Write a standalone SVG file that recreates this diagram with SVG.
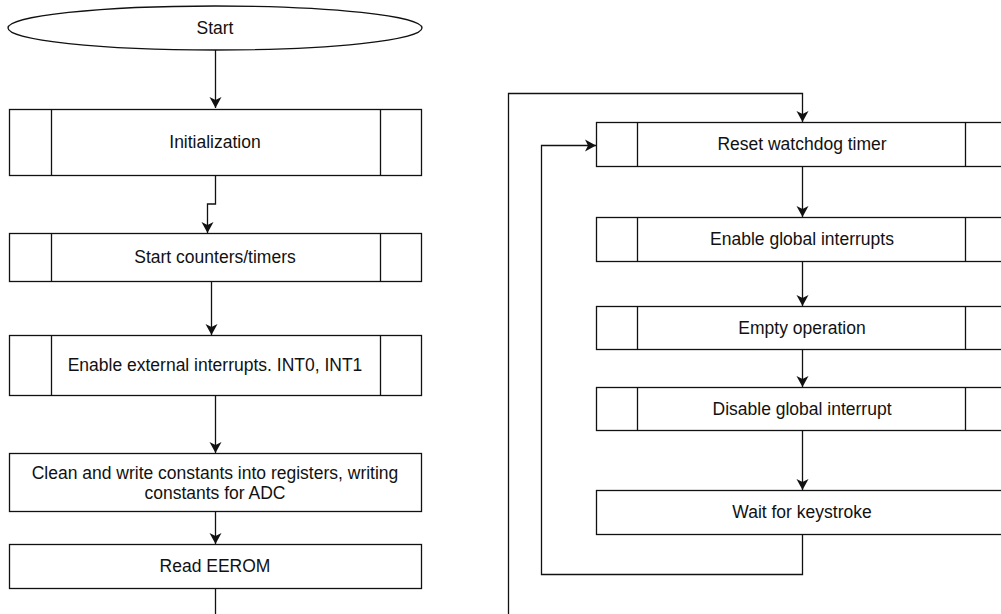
<svg xmlns="http://www.w3.org/2000/svg" width="1001" height="614" viewBox="0 0 1001 614">
<defs>
<style>
.s{fill:#fff;stroke:#111;stroke-width:1.3}
.l{fill:none;stroke:#111;stroke-width:1.3}
.t{font-family:"Liberation Sans",Arial,sans-serif;font-size:17.5px;fill:#111;text-anchor:middle;dominant-baseline:central}
.c{fill:none;stroke:#111;stroke-width:1.3}
</style>
<marker id="arr" markerUnits="userSpaceOnUse" markerWidth="14" markerHeight="14" viewBox="-12 -7 14 14" refX="0" refY="0" orient="auto">
<path d="M0,0 L-11,-6 L-8,0 L-11,6 Z" fill="#111"/>
</marker>
</defs>
<rect width="1001" height="614" fill="#fff"/>
<g id="connectors">
<path class="c" d="M215.5,50 V108" marker-end="url(#arr)"/>
<path class="c" d="M215.5,175 V204 H207.5 V233" marker-end="url(#arr)"/>
<path class="c" d="M211.5,281 V335" marker-end="url(#arr)"/>
<path class="c" d="M215.5,396 V453" marker-end="url(#arr)"/>
<path class="c" d="M215.5,512 V544" marker-end="url(#arr)"/>
<path class="c" d="M215.5,588 V614"/>
<path class="c" d="M508.5,614 V93.5 H802.5 V122" marker-end="url(#arr)"/>
<path class="c" d="M802.5,535 V574.5 H541.5 V145.5 H596" marker-end="url(#arr)"/>
<path class="c" d="M802.5,166 V217" marker-end="url(#arr)"/>
<path class="c" d="M802.5,262 V306" marker-end="url(#arr)"/>
<path class="c" d="M802.5,349 V387" marker-end="url(#arr)"/>
<path class="c" d="M802.5,430 V490" marker-end="url(#arr)"/>
</g>
<g id="start">
<ellipse class="s" cx="215" cy="28" rx="207" ry="22"/>
<text class="t" x="215" y="28">Start</text>
</g>
<g id="init">
<rect class="s" x="9.5" y="109.5" width="412" height="66"/>
<path class="l" d="M51.5,109.5 V175.5 M380.5,109.5 V175.5"/>
<text class="t" x="215" y="142">Initialization</text>
</g>
<g id="counters">
<rect class="s" x="9.5" y="233.5" width="412" height="48"/>
<path class="l" d="M51.5,233.5 V281.5 M380.5,233.5 V281.5"/>
<text class="t" x="215" y="257">Start counters/timers</text>
</g>
<g id="extint">
<rect class="s" x="9.5" y="335.5" width="412" height="60"/>
<path class="l" d="M51.5,335.5 V395.5 M380.5,335.5 V395.5"/>
<text class="t" x="215" y="365">Enable external interrupts. INT0, INT1</text>
</g>
<g id="clean">
<rect class="s" x="9.5" y="453.5" width="412" height="58"/>
<text class="t" x="215" y="473">Clean and write constants into registers, writing</text>
<text class="t" x="215" y="493">constants for ADC</text>
</g>
<g id="eerom">
<rect class="s" x="9.5" y="544.5" width="412" height="44"/>
<text class="t" x="215" y="566">Read EEROM</text>
</g>
<g id="watchdog">
<rect class="s" x="596.5" y="122.5" width="412" height="44"/>
<path class="l" d="M637.5,122.5 V166.5 M965.5,122.5 V166.5"/>
<text class="t" x="802" y="144">Reset watchdog timer</text>
</g>
<g id="enable">
<rect class="s" x="596.5" y="217.5" width="412" height="44"/>
<path class="l" d="M637.5,217.5 V261.5 M965.5,217.5 V261.5"/>
<text class="t" x="802" y="239">Enable global interrupts</text>
</g>
<g id="empty">
<rect class="s" x="596.5" y="306.5" width="412" height="43"/>
<path class="l" d="M637.5,306.5 V349.5 M965.5,306.5 V349.5"/>
<text class="t" x="802" y="328">Empty operation</text>
</g>
<g id="disable">
<rect class="s" x="596.5" y="387.5" width="412" height="43"/>
<path class="l" d="M637.5,387.5 V430.5 M965.5,387.5 V430.5"/>
<text class="t" x="802" y="409">Disable global interrupt</text>
</g>
<g id="wait">
<rect class="s" x="596.5" y="490.5" width="412" height="44"/>
<text class="t" x="802" y="512">Wait for keystroke</text>
</g>
</svg>
